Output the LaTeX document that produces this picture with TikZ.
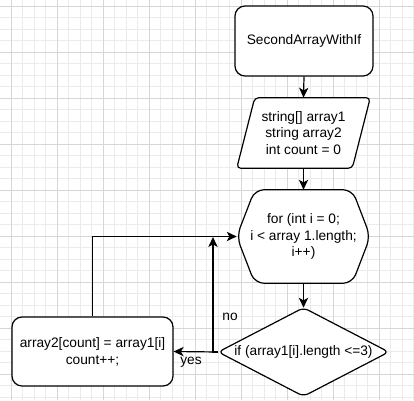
\documentclass[tikz,border=0pt]{standalone}
\usepackage{fontspec}
\setmainfont{Liberation Sans}
\usetikzlibrary{arrows.meta}
\pgfdeclarelayer{gridlayer}
\pgfdeclarelayer{background}
\pgfsetlayers{gridlayer,background,main}
\begin{document}
\begin{tikzpicture}[x=0.75pt,y=-0.75pt,
  txt/.style={align=center, inner sep=0pt, font=\fontsize{10.3}{12.6}\selectfont},
  box/.style={txt, draw=black, line width=0.9pt, fill=white},
  outline/.style={draw=black, line width=0.9pt, fill=white},
  conn/.style={draw=black, line width=0.9pt, -{Stealth[length=7.5pt,width=7pt,inset=2pt]}},
  lbl/.style={inner sep=1pt, font=\fontsize{10.3}{12.6}\selectfont},
  gminor/.style={draw=black!8, line width=0.6pt},
  gmajor/.style={draw=black!16, line width=0.6pt}]
\useasboundingbox (0,0) rectangle (414,400);
\begin{pgfonlayer}{gridlayer}
  \fill[white] (0,0) rectangle (414,400);
  \foreach \i in {0,...,36} {
    \draw[gminor] ({-0.2+11.5*\i},0) -- ({-0.2+11.5*\i},400);
  }
  \foreach \i in {0,...,35} {
    \draw[gminor] (0,{-5.2+11.5*\i}) -- (414,{-5.2+11.5*\i});
  }
  \foreach \i in {0,...,8} {
    \draw[gmajor] ({11.3+46*\i},0) -- ({11.3+46*\i},400);
    \draw[gmajor] (0,{6.3+46*\i}) -- (414,{6.3+46*\i});
  }
\end{pgfonlayer}

% start
\node[box, rounded corners=7.5pt, minimum width=103.5pt, minimum height=52.5pt] (start) at (304,41) {SecondArrayWithIf};

% input (parallelogram)
\node[txt, minimum width=99.75pt, minimum height=52.5pt] (inp) at (303.5,133)
  {string[] array1\\string array2\\int count = 0};
\begin{pgfonlayer}{background}
  \draw[outline, rounded corners=3pt] ([xshift=13.5pt]inp.north west) -- (inp.north east)
    -- ([xshift=-13.5pt]inp.south east) -- (inp.south west) -- cycle;
\end{pgfonlayer}

% loop (hexagon)
\node[txt, minimum width=99.75pt, minimum height=69.75pt] (hex) at (303.5,236.5)
  {for (int i = 0;\\i < array 1.length;\\i++)};
\begin{pgfonlayer}{background}
  \draw[outline, rounded corners=7pt] (hex.west) -- ([xshift=13.5pt]hex.north west)
    -- ([xshift=-13.5pt]hex.north east) -- (hex.east)
    -- ([xshift=-13.5pt]hex.south east) -- ([xshift=13.5pt]hex.south west) -- cycle;
\end{pgfonlayer}

% decision (diamond)
\node[txt, minimum width=127.5pt, minimum height=66pt] (dia) at (303.5,352)
  {if (array1[i].length <=3)};
\begin{pgfonlayer}{background}
  \draw[outline, rounded corners=4pt] (dia.north) -- (dia.east) -- (dia.south) -- (dia.west) -- cycle;
\end{pgfonlayer}

% process
\node[box, rounded corners=7.5pt, minimum width=120.75pt, minimum height=51.75pt] (proc) at (92.5,351.5)
  {array2[count] = array1[i]\\count++;};

\coordinate (noend) at (213,237);

% connectors
\draw[conn] (start.south) -- (inp.north);
\draw[conn] (inp.south) -- (hex.north);
\draw[conn] (hex.south) -- (dia.north);
\draw[conn] (dia.west) -- (proc.east);
\draw[conn] (dia.west) -| (noend);
\draw[conn] (proc.north) |- (hex.west);

\node[lbl] (nolbl) at (230,317) {no};
\node[lbl] (yeslbl) at (191,362) {yes};
\end{tikzpicture}
\end{document}
